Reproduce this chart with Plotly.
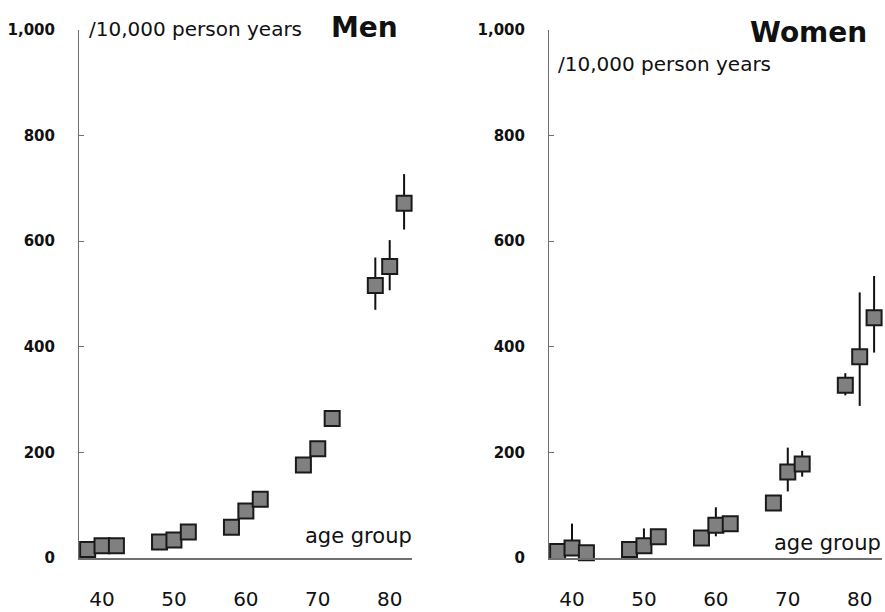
import plotly.graph_objects as go

# ---- data ----
age_groups = [40, 50, 60, 70, 80]
ages = [38, 40, 42, 48, 50, 52, 58, 60, 62, 68, 70, 72, 78, 80, 82]

men = [16, 23, 23, 30, 34, 49, 58, 89, 111, 176, 207, 264, 516, 552, 672]
men_hi = [16, 23, 23, 30, 34, 49, 58, 89, 111, 190, 207, 264, 569, 602, 727]
men_lo = [16, 23, 23, 30, 34, 49, 58, 89, 111, 170, 207, 264, 470, 507, 622]

women = [12, 19, 10, 16, 23, 40, 38, 62, 65, 104, 163, 178, 327, 381, 455]
women_hi = [12, 65, 10, 16, 56, 40, 38, 96, 65, 104, 209, 203, 350, 503, 534]
women_lo = [12, 19, 10, 16, 23, 40, 38, 41, 65, 104, 126, 154, 308, 288, 389]

y_ticks = [0, 200, 400, 600, 800, 1000]

W, H = 885, 612
FONT = "DejaVu Sans"
fill = "#808080"
edge = "#1a1a1a"


def trace(vals, hi, lo, xa, ya):
    return go.Scatter(
        x=ages, y=vals, xaxis=xa, yaxis=ya, mode="markers",
        marker=dict(symbol="square", size=15, color=fill,
                    line=dict(color=edge, width=2)),
        error_y=dict(type="data", symmetric=False,
                     array=[h - v for h, v in zip(hi, vals)],
                     arrayminus=[v - l for v, l in zip(vals, lo)],
                     color="#111111", thickness=2, width=0),
        cliponaxis=False, showlegend=False, hoverinfo="x+y",
    )


fig = go.Figure()
fig.add_trace(trace(men, men_hi, men_lo, "x", "y"))
fig.add_trace(trace(women, women_hi, women_lo, "x2", "y2"))

ydom = [1 - 565.6 / H, 1 - 21.6 / H]
xr = [36.8, 83.1]

xcommon = dict(range=xr, tickvals=age_groups, ticktext=[str(a) for a in age_groups],
               showgrid=False, zeroline=False, showline=True, linecolor="#707070",
               linewidth=1.5, ticks="", ticklabelstandoff=22,
               tickfont=dict(family=FONT, size=20, color="#111"))
ycommon = dict(range=[0, 1000], tickvals=y_ticks, tickformat=",d",
               showgrid=False, zeroline=False, showline=True, linecolor="#707070",
               linewidth=1, ticks="inside", ticklen=5, tickcolor="#707070",
               ticklabelstandoff=20, domain=ydom,
               tickfont=dict(family=FONT, size=15, color="#111", weight="bold"))

fig.update_layout(
    width=W, height=H, margin=dict(l=0, r=0, t=0, b=0),
    paper_bgcolor="white", plot_bgcolor="white",
    xaxis=dict(domain=[79 / W, 412 / W], anchor="y", **xcommon),
    yaxis=dict(anchor="x", **ycommon),
    xaxis2=dict(domain=[549 / W, 882 / W], anchor="y2", **xcommon),
    yaxis2=dict(anchor="x2", **ycommon),
)


def ann(text, px, py, xanchor, size, bold=False):
    fig.add_annotation(
        x=px / W, y=1 - py / H, xref="paper", yref="paper",
        xanchor=xanchor, yanchor="middle", showarrow=False, text=text,
        font=dict(family=FONT, size=size, color="#111",
                  weight="bold" if bold else "normal"),
    )


ann("/10,000 person years", 87, 21, "left", 20)
ann("Men", 400, 19, "right", 28, bold=True)
ann("age group", 414, 543, "right", 21)

ann("Women", 869, 24, "right", 28, bold=True)
ann("/10,000 person years", 556, 57, "left", 20)
ann("age group", 883, 550, "right", 21)

fig.write_html("out.html")
